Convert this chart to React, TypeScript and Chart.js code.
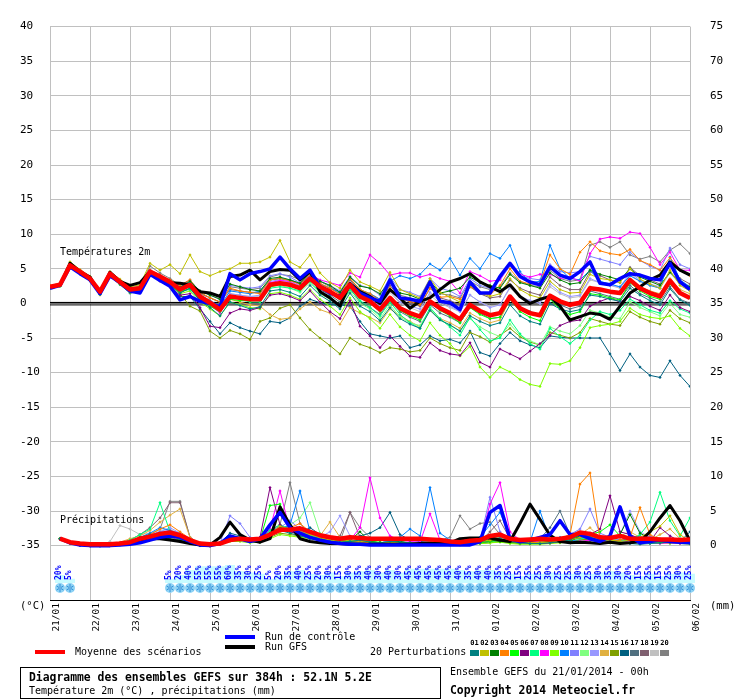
import { useEffect, useRef } from 'react';
import { Chart, registerables } from 'chart.js';

Chart.register(...registerables);

// ---- axes / categories ----
const DAYS = ['21/01', '22/01', '23/01', '24/01', '25/01', '26/01', '27/01', '28/01', '29/01', '30/01', '31/01', '01/02', '02/02', '03/02', '04/02', '05/02', '06/02'];
const HOURS = Array.from({ length: 65 }, (_, i) => i * 6);
const TEMP_TICKS = [-35, -30, -25, -20, -15, -10, -5, 0, 5, 10, 15, 20, 25, 30, 35, 40];
const PRECIP_TICKS = [0, 5, 10, 15, 20, 25, 30, 35, 40, 45, 50, 55, 60, 65, 70, 75];

// ---- temperature 2m (°C), one value per 6h ----
const tempMean = [
  2.4, 2.7, 5.5, 4.6, 3.6, 1.7, 4.3, 3.1, 2.0, 2.2, 4.6, 3.9, 3.1,
  2.0, 2.7, 1.0, 0.1, -0.9, 1.0, 0.8, 0.6, 0.6, 2.7, 2.9, 2.7,
  2.2, 3.6, 2.4, 1.7, 0.8, 2.7, 1.0, 0.3, -0.9, 0.8, -0.7, -1.4,
  -1.9, 0.3, -0.7, -1.4, -2.3, -0.2, -1.1, -1.7, -1.4, 1.0, -0.7, -1.4,
  -1.7, 1.1, 0.3, -0.2, 0.1, 2.2, 2.0, 1.7, 1.5, 3.4, 2.2, 1.5, 1.0, 3.3, 1.5, 0.8,
];
const tempControl = [
  2.2, 2.6, 5.3, 4.3, 3.4, 1.4, 4.0, 3.0, 1.8, 1.5, 4.2, 3.3, 2.5,
  0.5, 1.0, 0.3, 0.0, -0.5, 4.3, 3.4, 4.3, 4.6, 5.0, 6.7, 5.0,
  3.6, 4.8, 2.4, 1.5, 1.0, 2.7, 1.5, 0.8, 0.3, 3.4, 0.8, 0.6,
  0.3, 3.1, 0.3, 0.1, -0.9, 3.1, 1.5, 1.5, 3.9, 5.8, 3.9, 3.1,
  2.7, 5.3, 4.1, 3.6, 4.6, 6.0, 2.9, 2.7, 3.6, 4.3, 4.1, 3.6, 3.4, 5.8, 3.1, 2.0,
];
const tempGfs = [
  2.4, 2.6, 5.8, 4.6, 3.8, 1.5, 4.5, 3.2, 2.6, 3.0, 4.6, 3.8, 3.0,
  2.9, 2.7, 1.7, 1.5, 1.0, 3.9, 4.1, 4.8, 3.4, 4.6, 4.9, 4.8,
  3.4, 4.6, 1.7, 0.8, -0.4, 2.9, 1.7, 1.0, 0.0, 2.0, 0.8, -0.7,
  0.3, 0.8, 2.0, 3.1, 3.6, 4.3, 3.1, 2.4, 1.7, 2.7, 1.0, 0.0,
  0.6, 1.0, -0.4, -2.4, -1.9, -1.4, -1.6, -2.3, -0.4, 1.5, 2.4, 3.4, 4.1, 6.0, 4.8, 4.1,
];
const tempP01 = [
  2.3, 2.6, 5.3, 4.4, 3.4, 1.5, 4.1, 2.9, 1.7, 1.9, 4.3, 3.5, 2.8,
  1.5, 2.2, 0.4, -0.6, -1.8, 0.2, -0.3, -0.8, -0.5, 1.8, 2.0, 1.6,
  1.0, 2.6, 1.2, 0.3, -0.8, 1.5, -0.4, -1.2, -2.5, -0.6, -2.2, -3.0,
  -3.6, -1.0, -2.4, -3.1, -4.0, -1.8, -2.6, -3.2, -2.8, -0.2, -1.8, -2.6,
  -3.0, 0.0, -0.8, -1.2, -0.9, 1.2, 1.0, 0.6, 0.3, 2.2, 1.2, 0.4, -0.2, 2.1, 0.5, -0.3,
];
const tempP02 = [
  2.6, 2.9, 6.0, 4.9, 3.9, 1.9, 4.6, 3.5, 2.4, 2.7, 5.8, 4.8, 5.6,
  4.3, 7.0, 4.6, 4.0, 4.6, 5.0, 5.8, 5.8, 6.0, 6.7, 9.1, 6.0,
  5.2, 7.0, 4.4, 3.0, 2.2, 4.8, 3.1, 2.5, 1.8, 4.5, 2.0, 1.4,
  0.8, 3.6, 1.6, 0.9, 0.2, 2.6, 1.5, 1.0, 1.4, 3.6, 2.0, 1.2,
  0.8, 3.2, 2.0, 1.5, 1.6, 4.2, 3.6, 3.4, 3.0, 5.0, 3.5, 2.8, 2.2, 4.8, 2.6, 1.8,
];
const tempP03 = [
  2.3, 2.6, 5.4, 4.5, 3.6, 1.6, 4.2, 3.0, 1.9, 2.1, 4.5, 3.8, 3.0,
  2.3, 3.2, 1.8, 1.2, 0.6, 2.8, 2.4, 2.0, 1.8, 3.6, 3.8, 3.4,
  2.9, 4.4, 3.2, 2.6, 1.6, 3.8, 2.5, 2.2, 1.4, 3.2, 1.5, 1.2,
  0.6, 3.2, 1.5, 1.8, 2.2, 3.8, 3.0, 2.6, 2.2, 4.2, 3.0, 2.6,
  2.2, 4.4, 3.4, 2.8, 3.0, 4.8, 4.2, 3.8, 3.4, 5.0, 3.8, 3.2, 2.6, 4.5, 3.0, 2.4,
];
const tempP04 = [
  2.5, 2.8, 5.7, 4.7, 3.7, 1.6, 4.4, 3.2, 2.2, 2.4, 4.8, 4.1, 3.4,
  2.6, 3.4, 1.6, 0.8, 0.2, 2.2, 1.8, 1.6, 1.4, 3.4, 3.6, 3.3,
  2.8, 4.2, 2.9, 2.2, 1.3, 3.6, 2.0, 1.4, 0.4, 2.2, 0.8, 0.3,
  -0.2, 2.2, 0.9, 1.0, 0.6, 2.4, 1.6, 1.2, 2.6, 5.0, 3.2, 2.8,
  2.9, 7.0, 5.0, 4.2, 7.4, 8.9, 7.6, 7.2, 7.0, 7.8, 6.2, 5.6, 4.8, 6.6, 4.8, 4.0,
];
const tempP05 = [
  2.2, 2.5, 5.2, 4.3, 3.3, 1.3, 4.0, 2.8, 1.7, 1.8, 4.2, 3.5, 2.7,
  1.6, 2.2, 0.5, -0.4, -1.2, 0.6, 0.4, 0.4, 0.5, 2.4, 2.8, 2.5,
  2.0, 3.4, 2.2, 1.5, 0.6, 2.6, 0.8, 0.0, -1.2, 0.6, -1.0, -1.8,
  -2.4, 0.2, -1.0, -1.8, -2.8, -0.6, -1.6, -2.2, -2.0, 0.6, -1.2, -2.0,
  -2.5, 0.6, -0.8, -1.6, -1.2, 1.4, 1.2, 0.8, 0.5, 3.0, 1.8, 1.0, 0.6, 2.8, 1.4, 0.8,
];
const tempP06 = [
  2.4, 2.7, 5.5, 4.5, 3.5, 1.5, 4.1, 3.0, 1.8, 2.0, 4.3, 3.2, 2.4,
  1.2, 1.4, -0.6, -3.3, -3.5, -1.4, -0.8, -1.0, -0.6, 1.2, 1.4, 1.0,
  0.4, 1.8, 0.2, -1.2, -2.2, 0.4, -3.3, -4.7, -6.4, -4.7, -6.2, -7.6,
  -7.8, -5.7, -6.8, -7.3, -7.5, -5.7, -8.5, -9.2, -6.6, -7.3, -8.0, -6.9,
  -5.8, -4.6, -3.2, -2.6, -2.4, -0.4, 0.3, 0.8, 0.2, 1.0, 0.4, -0.4, -1.0, 1.2, -0.6, -1.2,
];
const tempP07 = [
  2.3, 2.6, 5.3, 4.4, 3.5, 1.5, 4.2, 3.0, 1.8, 2.0, 4.3, 3.6, 2.8,
  1.8, 2.0, 0.6, -0.2, -1.0, 0.8, 0.6, 0.2, 0.2, 2.2, 2.4, 2.2,
  1.8, 3.2, 1.6, 0.9, -0.2, 2.0, 0.4, -0.6, -1.8, 0.2, -1.6, -2.8,
  -3.6, -0.6, -2.2, -3.4, -4.6, -2.0, -3.8, -5.4, -5.0, -2.4, -4.4, -5.8,
  -6.6, -3.6, -4.8, -5.8, -4.6, -2.4, -1.2, -1.6, -1.0, 0.6, -0.2, -1.0, -1.4, 0.4, -0.8, -1.4,
];
const tempP08 = [
  2.4, 2.6, 5.4, 4.5, 3.6, 1.7, 4.3, 3.1, 2.0, 2.2, 4.6, 3.8, 3.0,
  1.8, 2.4, 0.8, -0.2, -1.4, 0.9, 0.6, 0.4, 0.8, 3.0, 3.3, 3.2,
  2.8, 4.2, 3.4, 3.0, 2.6, 4.4, 3.8, 7.0, 5.8, 4.1, 4.4, 4.4,
  3.8, 4.2, 3.6, 3.2, 1.5, 4.6, 4.0, 3.2, 3.4, 5.8, 4.2, 3.8,
  4.2, 4.2, 3.6, 3.8, 3.2, 7.2, 9.3, 9.6, 9.4, 10.3, 10.1, 8.1, 5.6, 7.4, 4.8, 4.8,
];
const tempP09 = [
  2.2, 2.5, 5.2, 4.3, 3.3, 1.4, 4.0, 2.8, 1.6, 1.8, 4.2, 3.4, 2.6,
  1.4, 1.8, 0.2, -0.8, -1.8, 0.2, -0.2, -0.6, -0.8, 1.4, 1.6, 1.2,
  0.6, 2.0, 0.6, -0.4, -1.6, 0.8, -1.2, -2.2, -3.6, -1.6, -3.4, -4.6,
  -5.4, -2.8, -4.6, -5.8, -7.6, -6.2, -9.2, -10.7, -9.2, -9.9, -11.0, -11.7,
  -12.0, -8.7, -8.8, -8.3, -6.4, -3.5, -3.2, -3.0, -2.6, -0.7, -1.6, -2.0, -2.2, -1.8, -3.6, -4.7,
];
const tempP10 = [
  2.5, 2.8, 5.6, 4.7, 3.8, 1.8, 4.5, 3.2, 2.1, 2.3, 4.8, 4.0, 3.2,
  2.4, 3.0, 1.2, 0.4, -0.4, 1.8, 1.6, 1.4, 1.8, 3.4, 3.6, 3.4,
  2.9, 4.0, 2.8, 2.2, 1.6, 2.9, 1.8, 1.4, 0.6, 3.2, 4.0, 3.6,
  4.2, 5.7, 4.8, 6.5, 4.1, 6.5, 5.0, 7.2, 6.5, 8.4, 4.6, 3.0,
  3.2, 8.4, 5.0, 3.6, 3.4, 4.8, 3.2, 2.8, 2.4, 4.0, 3.2, 2.6, 2.2, 6.7, 3.4, 2.4,
];
const tempP11 = [
  2.4, 2.7, 5.5, 4.6, 3.7, 1.8, 4.4, 3.2, 2.1, 2.3, 4.7, 4.0, 3.3,
  2.6, 3.3, 1.8, 1.2, 0.6, 2.6, 2.4, 2.2, 2.4, 4.0, 4.3, 3.8,
  3.0, 4.6, 3.2, 2.6, 1.8, 3.9, 2.6, 2.2, 1.2, 3.8, 2.0, 1.6,
  1.0, 3.6, 2.2, 1.8, 1.0, 3.6, 2.6, 2.2, 3.4, 5.4, 4.0, 3.6,
  3.4, 5.6, 4.6, 4.4, 4.6, 6.8, 6.4, 6.0, 5.6, 7.4, 6.2, 5.4, 4.8, 8.0, 5.6, 5.0,
];
const tempP12 = [
  2.3, 2.6, 5.4, 4.5, 3.5, 1.6, 4.2, 3.0, 1.9, 2.0, 4.4, 3.7, 2.9,
  1.9, 2.5, 0.9, 0.0, -0.9, 1.0, 0.8, 0.5, 0.4, 2.4, 2.6, 2.2,
  1.6, 3.0, 1.4, 0.6, -0.4, 1.8, 0.0, -0.8, -2.2, -0.2, -2.0, -2.8,
  -3.2, -0.8, -2.4, -3.2, -4.0, -2.2, -3.4, -4.2, -4.8, -3.0, -4.6, -5.4,
  -6.0, -3.4, -4.0, -4.4, -3.2, -1.0, -1.4, -2.0, -2.2, 0.2, -0.6, -1.2, -1.8, 0.0, -1.6, -2.0,
];
const tempP13 = [
  2.5, 2.8, 5.6, 4.7, 3.7, 1.8, 4.4, 3.2, 2.1, 2.3, 4.7, 4.0, 3.2,
  2.2, 2.9, 1.2, 0.4, -0.6, 1.4, 1.2, 1.0, 1.2, 3.2, 3.4, 3.1,
  2.6, 3.8, 2.6, 1.9, 1.0, 3.0, 1.2, 0.6, -0.4, 1.8, 0.2, -0.4,
  -0.8, 1.6, 0.2, -0.4, -1.2, 1.2, 0.2, -0.6, -0.2, 2.4, 1.0, 0.4,
  0.0, 2.8, 1.6, 1.0, 1.2, 3.6, 3.0, 2.6, 2.4, 4.4, 3.4, 2.8, 2.4, 4.6, 3.0, 2.2,
];
const tempP14 = [
  2.4, 2.7, 5.5, 4.6, 3.5, 1.2, 4.0, 2.9, 1.8, 2.0, 4.4, 3.6, 2.8,
  1.6, 2.2, 0.4, -0.4, -1.2, 0.6, 0.2, -0.2, -0.4, -1.6, -2.3, -2.1,
  -0.8, 0.2, -0.9, -1.4, -3.0, -0.6, -1.4, -2.0, -2.8, -0.8, -1.8, -2.6,
  -3.4, -1.0, -2.2, -2.8, -3.6, -1.4, -2.2, -2.8, -2.4, 0.6, -0.8, -1.4,
  -1.8, 1.2, 0.2, -0.4, 0.0, 2.4, 2.0, 1.8, 1.6, 3.4, 2.4, 1.8, 1.4, 3.6, 2.0, 1.4,
];
const tempP15 = [
  2.3, 2.6, 5.4, 4.4, 3.4, 1.4, 4.1, 2.9, 1.8, 2.0, 4.4, 3.6, 2.7,
  1.4, -0.4, -1.1, -4.0, -5.0, -3.9, -4.4, -5.2, -2.6, -2.1, -0.7, -0.2,
  -2.1, -3.8, -5.0, -6.1, -7.3, -5.0, -5.9, -6.4, -7.1, -6.4, -6.6, -7.0,
  -6.8, -5.0, -5.8, -6.4, -6.8, -4.2, -4.8, -5.6, -4.6, -3.6, -4.8, -5.6,
  -6.0, -4.2, -4.6, -5.0, -4.2, -2.2, -2.6, -3.0, -3.2, -1.2, -2.0, -2.6, -3.0, -1.0, -2.2, -2.8,
];
const tempP16 = [
  2.2, 2.5, 5.2, 4.3, 3.3, 1.3, 3.9, 2.7, 1.5, 1.7, 4.1, 3.3, 2.4,
  1.0, 1.0, -0.8, -2.6, -4.4, -2.8, -3.5, -4.0, -4.4, -2.6, -2.8, -2.1,
  -0.4, 0.6, 0.1, -0.2, -0.2, -0.4, -2.6, -4.4, -4.7, -5.0, -4.7, -6.4,
  -6.0, -4.7, -5.4, -5.2, -5.7, -4.0, -7.1, -7.6, -5.8, -4.2, -5.4, -6.0,
  -6.4, -4.7, -4.9, -5.0, -5.0, -5.0, -5.0, -7.3, -9.7, -7.3, -9.2, -10.4, -10.7, -8.3, -10.4, -12.0,
];
const tempP17 = [
  2.4, 2.7, 5.6, 4.6, 3.6, 1.6, 4.3, 3.1, 2.0, 2.2, 4.6, 3.8, 3.0,
  1.6, 2.6, 0.6, -0.2, -1.0, 1.0, 0.8, 0.6, 0.8, 2.6, 2.8, 2.6,
  2.0, 3.4, 2.0, 1.2, 0.2, 2.2, 0.2, -0.6, -1.6, 0.4, -1.2, -2.0,
  -2.6, -0.2, -1.4, -2.0, -2.8, -0.6, -1.4, -2.2, -2.0, 0.8, -0.6, -1.2,
  -1.6, 1.0, -0.2, -0.8, -0.4, 1.8, 1.4, 1.0, 0.6, 2.6, 1.4, 0.8, 0.2, 2.4, 0.6, 0.0,
];
const tempP18 = [
  2.5, 2.8, 5.6, 4.7, 3.7, 1.8, 4.4, 3.3, 2.2, 2.4, 4.8, 4.1, 3.3,
  2.4, 3.0, 1.4, 0.8, 0.2, 2.0, 1.8, 1.6, 1.6, 3.4, 3.6, 3.3,
  2.8, 4.0, 2.8, 2.2, 1.4, 3.4, 1.8, 1.2, 0.2, 2.6, 0.8, 0.2,
  -0.4, 2.2, 0.8, 0.4, -0.2, 2.4, 1.4, 0.8, 1.0, 3.4, 2.2, 1.6,
  1.2, 3.8, 2.6, 2.0, 2.0, 4.6, 4.0, 3.4, 3.0, 5.2, 4.0, 3.4, 2.8, 5.6, 3.6, 2.8,
];
const tempP19 = [
  2.4, 2.7, 5.5, 4.6, 3.6, 1.7, 4.3, 3.1, 2.3, 2.6, 4.7, 3.9, 3.1,
  2.0, 2.8, 1.0, 0.2, -0.6, 1.4, 1.2, 1.0, 1.0, 3.0, 3.2, 3.0,
  2.4, 3.6, 2.4, 1.6, 0.8, 2.8, 1.0, 0.4, -0.6, 1.6, 0.0, -0.6,
  -1.2, 1.2, 0.0, -0.6, -1.2, 1.2, 0.2, -0.4, -0.2, 2.2, 1.0, 0.4,
  0.0, 2.4, 1.4, 0.8, 1.0, 3.4, 3.0, 2.6, 2.2, 4.2, 3.2, 2.6, 2.2, 4.4, 2.8, 2.2,
];
const tempP20 = [
  2.5, 2.8, 5.9, 4.8, 3.8, 1.7, 4.4, 3.2, 2.2, 2.6, 5.4, 4.4, 3.6,
  2.6, 3.4, 1.6, 0.8, 0.2, 2.4, 2.2, 2.0, 2.2, 3.8, 4.2, 4.0,
  3.4, 4.6, 3.2, 2.4, 1.6, 3.6, 2.0, 1.4, 0.6, 3.0, 1.2, 0.8,
  0.2, 2.8, 1.4, 1.2, 0.8, 3.2, 2.4, 2.0, 2.4, 4.4, 3.2, 2.6,
  2.4, 4.8, 3.6, 3.2, 3.4, 8.4, 8.9, 8.1, 8.9, 7.0, 6.4, 6.8, 6.0, 7.7, 8.6, 7.2,
];

// ---- precipitation (mm per 6h), nothing at hour 0 ----
const precipMean = [
  null, 1.0, 0.5, 0.3, 0.2, 0.2, 0.2, 0.3, 0.5, 1.0, 1.3, 1.7, 1.9,
  1.5, 0.8, 0.3, 0.2, 0.3, 0.8, 1.0, 0.9, 1.0, 1.6, 2.3, 2.3,
  2.5, 2.0, 1.5, 1.2, 1.0, 1.2, 1.1, 1.0, 1.0, 1.0, 1.0, 1.0,
  1.0, 0.9, 0.8, 0.6, 0.5, 0.7, 0.8, 1.4, 1.6, 1.0, 0.8, 0.9,
  1.0, 0.9, 1.0, 1.2, 1.9, 1.7, 1.2, 1.1, 1.4, 1.0, 1.0, 1.0, 0.9, 0.9, 0.8, 0.9,
];
const precipControl = [
  null, 1.0, 0.4, 0.1, 0.0, 0.0, 0.0, 0.1, 0.2, 0.4, 0.8, 1.2, 1.4,
  1.2, 0.6, 0.1, 0.0, 0.3, 1.4, 1.0, 0.6, 1.0, 3.0, 4.8, 2.6,
  1.8, 1.2, 0.8, 0.5, 0.3, 0.2, 0.2, 0.1, 0.1, 0.1, 0.1, 0.1,
  0.1, 0.1, 0.1, 0.1, 0.1, 0.1, 0.6, 4.8, 5.8, 1.0, 0.6, 0.8,
  1.2, 1.6, 3.6, 1.6, 1.6, 1.0, 0.6, 1.4, 5.6, 1.4, 0.4, 0.6, 0.8, 0.6, 0.5, 0.4,
];
const precipGfs = [
  null, 1.0, 0.5, 0.2, 0.1, 0.1, 0.1, 0.2, 0.3, 0.6, 1.0, 1.0, 0.8,
  0.6, 0.3, 0.1, 0.1, 1.2, 3.4, 1.6, 0.8, 0.5, 1.0, 5.6, 3.0,
  1.0, 0.6, 0.4, 0.3, 0.3, 0.2, 0.2, 0.2, 0.2, 0.2, 0.2, 0.2,
  0.3, 0.3, 0.3, 0.4, 1.0, 1.1, 1.1, 1.1, 0.8, 0.6, 3.2, 6.0,
  3.8, 1.5, 0.6, 0.4, 0.5, 0.4, 0.3, 0.5, 0.3, 0.4, 0.6, 2.0, 4.0, 5.8, 3.6, 0.7,
];
const precipP01 = [
  null, 1.0, 0.4, 0.1, 0.0, 0.0, 0.1, 0.3, 0.6, 1.2, 1.6, 1.2, 1.0,
  0.8, 0.3, 0.0, 0.0, 0.2, 1.2, 1.0, 0.6, 0.5, 1.4, 2.2, 1.8,
  1.4, 1.0, 0.8, 0.6, 0.5, 0.6, 0.8, 0.5, 0.4, 0.6, 0.5, 0.4,
  0.3, 0.3, 0.2, 0.2, 0.2, 0.3, 0.4, 1.2, 1.0, 0.6, 0.4, 0.3,
  0.3, 0.4, 0.6, 0.8, 1.6, 1.2, 0.8, 0.6, 0.4, 0.3, 0.2, 0.3, 0.4, 0.5, 0.4, 0.3,
];
const precipP02 = [
  null, 1.0, 0.5, 0.1, 0.0, 0.0, 0.1, 0.2, 0.5, 1.0, 1.4, 1.6, 1.8,
  1.2, 0.6, 0.1, 0.0, 0.3, 1.0, 0.8, 0.6, 0.8, 1.6, 2.8, 2.4,
  2.0, 1.6, 1.2, 0.8, 0.6, 0.8, 0.6, 0.5, 0.4, 0.5, 0.4, 0.4,
  0.3, 0.4, 0.3, 0.2, 0.3, 0.5, 0.6, 0.8, 1.0, 0.6, 0.4, 0.3,
  0.4, 0.5, 0.6, 0.8, 1.2, 1.4, 1.0, 0.8, 0.6, 0.8, 1.2, 2.0, 2.8, 4.3, 1.6, 0.6,
];
const precipP03 = [
  null, 1.0, 0.4, 0.1, 0.0, 0.0, 0.1, 0.2, 0.4, 0.8, 1.2, 1.8, 2.0,
  1.6, 0.8, 0.2, 0.0, 0.4, 1.4, 1.2, 0.8, 0.6, 1.8, 2.6, 2.2,
  2.4, 2.0, 1.4, 0.9, 0.6, 0.8, 2.0, 0.6, 0.4, 0.5, 0.6, 0.4,
  0.3, 0.3, 0.4, 0.3, 0.3, 0.4, 0.6, 0.8, 0.6, 0.5, 0.4, 0.6,
  0.8, 0.6, 0.5, 0.6, 1.4, 1.8, 1.2, 1.0, 1.6, 4.5, 1.8, 1.0, 0.6, 0.5, 0.6, 0.8,
];
const precipP04 = [
  null, 1.0, 0.5, 0.2, 0.1, 0.0, 0.1, 0.3, 0.6, 1.0, 1.6, 2.4, 3.0,
  2.0, 1.0, 0.2, 0.0, 0.2, 0.8, 1.0, 0.8, 0.6, 1.4, 2.0, 2.6,
  3.2, 2.0, 1.2, 0.8, 0.6, 0.8, 0.6, 0.4, 0.3, 0.4, 0.3, 0.3,
  0.2, 0.3, 0.2, 0.2, 0.2, 0.4, 0.6, 0.8, 1.6, 0.8, 0.5, 0.4,
  0.5, 0.6, 1.0, 1.6, 8.9, 10.5, 1.0, 0.6, 0.8, 1.2, 5.5, 1.6, 0.8, 0.6, 0.5, 0.6,
];
const precipP05 = [
  null, 1.0, 0.4, 0.1, 0.0, 0.0, 0.1, 0.2, 0.4, 0.8, 1.2, 1.6, 1.4,
  1.0, 0.5, 0.1, 0.0, 0.4, 1.2, 0.9, 0.6, 0.8, 5.8, 6.0, 2.6,
  1.8, 1.4, 1.0, 0.7, 0.5, 0.6, 0.8, 0.6, 0.5, 0.4, 0.4, 0.3,
  0.3, 0.3, 0.2, 0.2, 0.2, 0.3, 0.4, 0.6, 0.8, 0.5, 0.4, 0.4,
  0.5, 0.6, 0.8, 1.0, 1.4, 1.6, 2.0, 3.0, 1.4, 0.8, 0.6, 0.4, 0.4, 0.5, 0.4, 0.4,
];
const precipP06 = [
  null, 1.0, 0.4, 0.1, 0.0, 0.0, 0.0, 0.2, 0.3, 0.6, 1.0, 1.4, 1.6,
  1.2, 0.6, 0.1, 0.0, 0.2, 0.8, 0.8, 0.6, 1.2, 8.4, 3.0, 2.0,
  1.6, 1.2, 1.0, 0.8, 0.6, 0.5, 0.6, 0.4, 0.3, 0.4, 0.3, 0.3,
  0.2, 0.2, 0.2, 0.2, 0.2, 0.3, 0.4, 0.6, 1.0, 0.6, 0.4, 0.4,
  0.3, 0.4, 0.5, 0.8, 1.2, 1.6, 2.4, 7.2, 2.0, 1.6, 1.0, 0.6, 2.6, 1.4, 0.6, 0.4,
];
const precipP07 = [
  null, 1.0, 0.4, 0.1, 0.0, 0.0, 0.1, 0.3, 0.8, 1.6, 2.4, 6.2, 2.0,
  1.4, 0.6, 0.1, 0.0, 0.3, 1.0, 0.8, 0.6, 0.8, 2.2, 3.0, 2.4,
  2.0, 1.6, 1.2, 0.8, 0.6, 0.7, 0.6, 0.5, 0.4, 0.5, 0.4, 0.3,
  0.3, 0.3, 0.2, 0.2, 0.2, 0.3, 0.5, 0.6, 0.8, 0.6, 0.4, 0.3,
  0.4, 0.5, 0.6, 0.8, 1.0, 1.2, 1.0, 0.8, 0.6, 0.8, 1.6, 3.4, 7.7, 3.6, 1.4, 4.0,
];
const precipP08 = [
  null, 1.0, 0.4, 0.1, 0.0, 0.0, 0.1, 0.2, 0.4, 0.8, 1.2, 1.4, 1.2,
  1.0, 0.5, 0.1, 0.0, 0.3, 1.0, 0.8, 0.6, 0.8, 2.4, 7.9, 2.2,
  1.6, 1.2, 1.0, 0.8, 0.6, 0.8, 2.6, 9.8, 4.0, 1.4, 0.8, 0.6,
  0.5, 4.6, 0.8, 0.6, 0.4, 0.4, 0.6, 6.0, 9.1, 2.0, 0.8, 0.6,
  0.6, 0.8, 0.6, 0.5, 0.6, 0.8, 0.6, 0.5, 0.6, 0.5, 0.4, 0.4, 0.3, 0.4, 0.3, 0.3,
];
const precipP09 = [
  null, 1.0, 0.4, 0.1, 0.0, 0.0, 0.0, 0.1, 0.3, 0.6, 1.0, 1.2, 1.4,
  1.0, 0.4, 0.1, 0.0, 0.2, 0.6, 0.6, 0.4, 0.5, 1.0, 1.6, 1.4,
  1.2, 1.0, 0.8, 0.6, 0.4, 0.5, 0.4, 0.3, 0.2, 0.3, 0.2, 0.2,
  0.2, 0.2, 0.1, 0.1, 0.1, 0.2, 0.3, 0.4, 0.5, 0.3, 0.2, 0.2,
  0.2, 0.3, 0.4, 0.5, 0.6, 0.8, 0.6, 0.4, 0.3, 0.4, 0.5, 0.6, 0.4, 0.3, 0.3, 0.2,
];
const precipP10 = [
  null, 1.0, 0.5, 0.1, 0.0, 0.0, 0.1, 0.3, 0.6, 1.2, 1.8, 2.6, 2.2,
  1.4, 0.6, 0.1, 0.0, 0.4, 1.2, 1.0, 0.8, 0.6, 1.6, 2.4, 3.0,
  7.9, 2.0, 1.2, 0.8, 0.6, 0.8, 0.6, 0.5, 0.4, 0.6, 1.2, 2.4,
  1.4, 8.4, 1.8, 0.8, 0.6, 0.5, 1.2, 3.0, 4.8, 1.2, 0.6, 0.5,
  5.0, 0.8, 1.2, 0.8, 0.6, 0.8, 0.6, 0.6, 0.8, 1.0, 1.4, 0.8, 0.6, 0.5, 0.6, 0.5,
];
const precipP11 = [
  null, 1.0, 0.5, 0.2, 0.1, 0.0, 0.1, 0.3, 0.6, 1.0, 1.6, 2.0, 2.2,
  1.8, 0.8, 0.2, 0.0, 0.4, 4.3, 3.2, 1.2, 0.8, 1.8, 2.6, 3.6,
  2.4, 1.6, 1.2, 0.9, 0.6, 0.8, 0.6, 0.5, 0.4, 0.6, 0.5, 0.4,
  0.4, 0.4, 0.3, 0.3, 0.3, 0.4, 0.8, 7.0, 2.0, 0.8, 0.6, 0.5,
  0.6, 0.8, 1.0, 1.6, 2.4, 5.3, 1.8, 1.2, 0.8, 0.8, 1.0, 1.4, 1.0, 0.8, 0.8, 0.6,
];
const precipP12 = [
  null, 1.0, 0.4, 0.1, 0.0, 0.0, 0.1, 0.2, 0.5, 0.9, 1.4, 1.8, 1.6,
  1.2, 0.6, 0.1, 0.0, 0.3, 1.0, 0.8, 0.6, 0.8, 2.0, 2.4, 3.0,
  4.0, 6.2, 1.8, 1.0, 0.6, 0.8, 0.6, 0.5, 0.4, 0.5, 0.4, 0.3,
  0.3, 0.3, 0.2, 0.2, 0.2, 0.3, 0.4, 0.6, 0.8, 0.5, 0.4, 0.3,
  0.4, 0.5, 0.6, 0.8, 1.2, 1.4, 1.2, 1.0, 0.8, 0.6, 0.5, 0.6, 0.8, 0.6, 0.5, 0.4,
];
const precipP13 = [
  null, 1.0, 0.5, 0.1, 0.0, 0.0, 0.1, 0.2, 0.5, 1.0, 1.4, 2.0, 2.6,
  1.8, 0.8, 0.1, 0.0, 0.3, 1.2, 1.0, 0.8, 0.6, 1.4, 2.0, 2.4,
  2.2, 1.6, 1.2, 2.0, 4.3, 1.4, 0.8, 0.6, 0.4, 0.6, 0.5, 0.4,
  0.3, 0.3, 0.3, 0.2, 0.3, 0.4, 0.6, 0.8, 1.0, 0.6, 0.4, 0.4,
  0.5, 0.6, 0.8, 1.0, 1.6, 1.8, 1.4, 1.0, 1.6, 5.0, 2.0, 1.2, 0.8, 0.6, 0.5, 0.5,
];
const precipP14 = [
  null, 1.0, 0.5, 0.2, 0.1, 0.0, 0.2, 0.5, 1.0, 1.4, 2.2, 3.4, 4.4,
  5.3, 1.2, 0.2, 0.0, 0.3, 1.0, 0.8, 0.6, 0.8, 1.6, 2.4, 2.6,
  2.0, 1.6, 1.4, 3.4, 1.2, 0.8, 0.6, 0.5, 0.4, 0.5, 0.4, 0.3,
  0.3, 0.3, 0.2, 0.2, 0.2, 0.3, 0.5, 0.6, 1.4, 0.6, 0.4, 0.3,
  0.4, 0.5, 0.6, 0.8, 1.6, 2.6, 1.2, 0.8, 1.4, 2.0, 1.2, 0.8, 1.6, 2.4, 1.0, 0.6,
];
const precipP15 = [
  null, 1.0, 0.4, 0.1, 0.0, 0.0, 0.0, 0.1, 0.3, 0.6, 0.9, 1.2, 1.2,
  0.8, 0.4, 0.1, 0.0, 0.2, 0.8, 0.8, 0.6, 0.5, 1.2, 1.8, 1.6,
  1.4, 1.2, 0.8, 0.6, 0.4, 0.5, 0.4, 0.3, 0.3, 0.4, 0.3, 0.2,
  0.2, 0.2, 0.2, 0.1, 0.1, 0.2, 0.3, 0.4, 0.6, 0.4, 0.3, 0.3,
  0.3, 0.4, 0.5, 0.6, 0.8, 1.0, 0.8, 0.6, 0.5, 0.6, 0.8, 0.6, 0.5, 0.4, 0.4, 0.3,
];
const precipP16 = [
  null, 1.0, 0.4, 0.1, 0.0, 0.0, 0.1, 0.2, 0.4, 0.8, 1.2, 1.4, 1.4,
  1.0, 0.5, 0.1, 0.0, 0.4, 1.8, 1.4, 0.8, 0.6, 1.4, 2.2, 2.0,
  1.8, 2.6, 1.6, 1.0, 0.8, 1.0, 1.4, 1.8, 2.6, 4.8, 1.6, 0.8,
  0.6, 0.5, 0.4, 0.4, 0.4, 0.5, 0.6, 0.8, 0.8, 0.5, 0.4, 0.4,
  0.5, 0.8, 1.0, 1.4, 1.2, 1.0, 0.8, 0.6, 0.8, 0.6, 0.5, 0.6, 0.8, 1.0, 0.6, 2.0,
];
const precipP17 = [
  null, 1.0, 0.4, 0.1, 0.0, 0.0, 0.1, 0.3, 0.5, 0.9, 1.4, 1.8, 1.6,
  1.2, 0.6, 0.1, 0.0, 0.4, 1.2, 1.0, 0.8, 0.6, 1.6, 2.6, 2.2,
  2.0, 1.6, 1.2, 0.8, 0.6, 0.8, 0.6, 0.5, 0.4, 0.6, 0.5, 0.4,
  0.3, 0.3, 0.3, 0.2, 0.2, 0.3, 0.4, 0.8, 1.2, 0.8, 0.6, 0.5,
  1.0, 2.6, 5.0, 1.6, 1.0, 0.8, 0.6, 0.5, 0.4, 0.6, 0.8, 0.6, 0.5, 0.6, 0.5, 0.4,
];
const precipP18 = [
  null, 1.0, 0.5, 0.2, 0.1, 0.0, 0.1, 0.3, 0.8, 1.6, 2.6, 4.0, 6.2,
  6.2, 1.2, 0.2, 0.0, 0.3, 1.0, 0.8, 0.6, 0.8, 2.0, 2.8, 2.4,
  2.0, 1.6, 1.2, 0.8, 1.4, 4.8, 1.2, 0.6, 0.4, 0.6, 0.5, 0.4,
  0.3, 0.4, 0.3, 0.2, 0.3, 0.4, 0.6, 2.0, 3.6, 1.0, 0.6, 0.5,
  0.5, 0.6, 0.8, 1.0, 1.2, 1.4, 1.0, 0.8, 0.6, 0.8, 1.0, 0.8, 0.6, 0.8, 0.6, 0.5,
];
const precipP19 = [
  null, 1.0, 0.5, 0.2, 0.1, 0.0, 0.6, 2.9, 2.4, 1.6, 1.8, 2.2, 2.4,
  1.6, 0.6, 0.1, 0.0, 0.3, 1.0, 0.8, 0.6, 0.6, 1.4, 2.0, 2.2,
  1.8, 1.4, 1.0, 0.7, 0.5, 0.6, 0.5, 0.4, 0.3, 0.4, 0.3, 0.3,
  0.2, 0.2, 0.2, 0.2, 0.2, 0.3, 0.4, 0.5, 0.6, 0.4, 0.3, 0.3,
  0.4, 0.5, 0.6, 0.7, 0.9, 1.0, 0.8, 0.6, 0.5, 0.6, 0.7, 0.6, 0.5, 0.5, 0.4, 0.4,
];
const precipP20 = [
  null, 1.0, 0.5, 0.2, 0.1, 0.0, 0.1, 0.3, 0.6, 1.0, 1.6, 2.4, 6.4,
  6.4, 1.2, 0.2, 0.0, 0.3, 1.2, 1.0, 0.8, 0.8, 2.2, 3.0, 9.1,
  3.2, 1.6, 1.2, 0.8, 0.6, 4.8, 2.6, 1.2, 0.8, 0.6, 0.5, 0.4,
  0.4, 0.6, 0.8, 1.2, 4.3, 2.4, 3.2, 3.4, 1.6, 0.8, 0.6, 0.5,
  0.5, 0.6, 0.8, 1.0, 1.2, 1.4, 1.0, 0.8, 0.6, 0.8, 1.0, 0.8, 0.6, 0.6, 0.5, 0.5,
];

// probability of snow (%) for each 6h interval
const snowPct = [
  20, 5, null, null, null, null, null, null, null, null, null,
  5, 20, 40, 55, 55, 55, 60, 35, 30, 25, 5, 20, 35, 40, 25, 20, 30, 15, 30, 35, 40, 30, 40, 30,
  45, 45, 45, 45, 45, 40, 35, 40, 40, 35, 25, 15, 25, 25, 30, 25, 25, 30, 25, 30, 35, 30, 20,
  15, 25, 15, 25, 30, 25,
];

const PERT_COLORS = ['#008080', '#c0c000', '#008000', '#ff8000', '#00ff00', '#800080', '#00ff80', '#ff00ff', '#80ff00', '#0080ff', '#8080ff', '#80ff80', '#9898ff', '#e0b040', '#80a000', '#006080', '#507080', '#806070', '#c0c0c0', '#808080'];
const PERT_TEMPS = [tempP01, tempP02, tempP03, tempP04, tempP05, tempP06, tempP07, tempP08, tempP09, tempP10, tempP11, tempP12, tempP13, tempP14, tempP15, tempP16, tempP17, tempP18, tempP19, tempP20];
const PERT_PRECIPS = [precipP01, precipP02, precipP03, precipP04, precipP05, precipP06, precipP07, precipP08, precipP09, precipP10, precipP11, precipP12, precipP13, precipP14, precipP15, precipP16, precipP17, precipP18, precipP19, precipP20];

const MONO = '"DejaVu Sans Mono", monospace';
const GRID = '#c0c0c0';

function txt(ctx: CanvasRenderingContext2D, s: string, x: number, y: number, font: string, color = '#000') {
  ctx.font = font;
  ctx.fillStyle = color;
  ctx.textAlign = 'left';
  ctx.textBaseline = 'middle';
  ctx.fillText(s, x, y);
}

function flake(ctx: CanvasRenderingContext2D, cx: number, cy: number) {
  ctx.fillStyle = '#8fd3f5';
  ctx.beginPath();
  ctx.arc(cx, cy, 5, 0, Math.PI * 2);
  ctx.fill();
  ctx.strokeStyle = '#3290d8';
  ctx.lineWidth = 1;
  for (let a = 0; a < 3; a++) {
    const ang = (a * Math.PI) / 3 + Math.PI / 2;
    ctx.beginPath();
    ctx.moveTo(cx - 4 * Math.cos(ang), cy - 4 * Math.sin(ang));
    ctx.lineTo(cx + 4 * Math.cos(ang), cy + 4 * Math.sin(ang));
    ctx.stroke();
  }
  ctx.fillStyle = '#ffffff';
  ctx.fillRect(cx - 0.5, cy - 0.5, 1, 1);
}

const meteoPlugin = {
  id: 'meteo',
  beforeDatasetsDraw(chart: any) {
    const { ctx, chartArea: a, scales } = chart;
    const y0 = scales.y.getPixelForValue(0);
    ctx.save();
    ctx.fillStyle = '#000';
    ctx.fillRect(a.left, y0 - 1.5, a.right - a.left, 1.5);
    ctx.fillRect(a.left, y0 + 1, a.right - a.left, 1);
    txt(ctx, 'Températures 2m', 60, scales.y.getPixelForValue(7.3), `10px ${MONO}`);
    txt(ctx, 'Précipitations', 60, scales.y.getPixelForValue(-31.3), `10px ${MONO}`);
    ctx.restore();
  },
  afterDatasetsDraw(chart: any) {
    const { ctx, scales } = chart;
    ctx.save();
    const base = 583;
    snowPct.forEach((p, k) => {
      if (p == null) return;
      const x = scales.x.getPixelForValue((k + 1) * 6);
      const h = 3 + p * 0.25;
      ctx.fillStyle = '#c8fbff';
      ctx.fillRect(x - 5, base - h, 10, h);
    });
    snowPct.forEach((p, k) => {
      if (p == null) return;
      const x = scales.x.getPixelForValue((k + 1) * 6);
      flake(ctx, x, base + 5);
      ctx.save();
      ctx.translate(x - 1, base - 3);
      ctx.rotate(-Math.PI / 2);
      ctx.font = `bold 8px ${MONO}`;
      ctx.fillStyle = '#0000ff';
      ctx.textAlign = 'left';
      ctx.textBaseline = 'middle';
      ctx.fillText(`${p}%`, 0, 0);
      ctx.restore();
    });
    ctx.restore();
  },
  afterDraw(chart: any) {
    const { ctx } = chart;
    ctx.save();
    txt(ctx, '(°C)', 20, 606, `10.5px ${MONO}`);
    txt(ctx, '(mm)', 710, 606, `10.5px ${MONO}`);

    ctx.fillStyle = '#ff0000';
    ctx.fillRect(35, 650, 30, 4);
    txt(ctx, 'Moyenne des scénarios', 75, 652, `10px ${MONO}`);
    ctx.fillStyle = '#0000ff';
    ctx.fillRect(225, 635, 30, 4);
    txt(ctx, 'Run de contrôle', 265, 637, `10px ${MONO}`);
    ctx.fillStyle = '#000000';
    ctx.fillRect(225, 645, 30, 4);
    txt(ctx, 'Run GFS', 265, 647, `10px ${MONO}`);

    txt(ctx, '20 Perturbations', 370, 652, `10px ${MONO}`);
    PERT_COLORS.forEach((c, i) => {
      const x = 470 + i * 10;
      ctx.fillStyle = c;
      ctx.fillRect(x, 650, 9, 6);
      ctx.font = `bold 7px ${MONO}`;
      ctx.fillStyle = '#000';
      ctx.textAlign = 'center';
      ctx.textBaseline = 'middle';
      ctx.fillText(String(i + 1).padStart(2, '0'), x + 4.5, 643);
    });

    ctx.strokeStyle = '#000';
    ctx.lineWidth = 1;
    ctx.strokeRect(20.5, 667.5, 420, 31);
    txt(ctx, 'Diagramme des ensembles GEFS sur 384h : 52.1N 5.2E', 29, 678, `bold 11.4px ${MONO}`);
    txt(ctx, 'Température 2m (°C) , précipitations (mm)', 29, 691, `10px ${MONO}`);
    txt(ctx, 'Ensemble GEFS du 21/01/2014 - 00h', 450, 672, `10px ${MONO}`);
    txt(ctx, 'Copyright 2014 Meteociel.fr', 450, 691, `bold 11.4px ${MONO}`);
    ctx.restore();
  },
};

export default function App() {
  const canvasRef = useRef<HTMLCanvasElement>(null);

  useEffect(() => {
    document.body.style.margin = '0';
    const canvas = canvasRef.current;
    if (!canvas) return;

    const line = (data: (number | null)[], color: string, width: number, axis: string, points: boolean) => ({
      data,
      yAxisID: axis,
      borderColor: color,
      backgroundColor: color,
      borderWidth: width,
      borderJoinStyle: 'round' as const,
      pointRadius: points ? 1.6 : 0,
      pointStyle: 'rectRot' as const,
      pointBorderWidth: 0,
      pointBackgroundColor: color,
      tension: 0,
      fill: false,
    });

    const datasets: any[] = [
      line(tempMean, '#ff0000', 4.5, 'y', false),
      line(precipMean, '#ff0000', 4.5, 'y2', false),
      line(tempControl, '#0000ff', 3.5, 'y', false),
      line(precipControl, '#0000ff', 3.5, 'y2', false),
      line(tempGfs, '#000000', 3, 'y', false),
      line(precipGfs, '#000000', 3, 'y2', false),
    ];
    PERT_COLORS.forEach((c, i) => {
      datasets.push(line(PERT_TEMPS[i], c, 1, 'y', true));
      datasets.push(line(PERT_PRECIPS[i], c, 1, 'y2', true));
    });

    const chart = new Chart(canvas, {
      type: 'line',
      data: { labels: HOURS, datasets },
      options: {
        animation: false,
        responsive: true,
        maintainAspectRatio: false,
        events: [],
        layout: { padding: { left: 20, right: 0, top: 20, bottom: 0 } },
        plugins: { legend: { display: false }, tooltip: { enabled: false } },
        scales: {
          x: {
            type: 'linear',
            min: 0,
            max: 384,
            afterBuildTicks: (s: any) => {
              s.ticks = DAYS.map((_, i) => ({ value: i * 24 }));
            },
            afterFit: (s: any) => {
              s.height = 100;
            },
            grid: { color: GRID, drawTicks: false },
            border: { display: true, color: '#000', width: 1 },
            ticks: {
              autoSkip: false,
              minRotation: 90,
              maxRotation: 90,
              padding: 3,
              labelOffset: 7,
              color: '#000',
              font: { family: MONO, size: 9.5 },
              callback: (v: any) => DAYS[Math.round(Number(v) / 24)],
            },
          },
          y: {
            type: 'linear',
            position: 'left',
            min: 40 - 580 / 7,
            max: 40,
            afterBuildTicks: (s: any) => {
              s.ticks = TEMP_TICKS.map((v) => ({ value: v }));
            },
            afterFit: (s: any) => {
              s.width = 30;
            },
            grid: { color: GRID, drawTicks: false },
            border: { display: false },
            ticks: {
              crossAlign: 'far',
              color: '#000',
              font: { family: MONO, size: 11 },
              callback: (v: any) => String(v),
            },
          },
          y2: {
            type: 'linear',
            position: 'right',
            min: 75 - 580 / 7,
            max: 75,
            afterBuildTicks: (s: any) => {
              s.ticks = PRECIP_TICKS.map((v) => ({ value: v }));
            },
            afterFit: (s: any) => {
              s.width = 50;
            },
            grid: { display: false, drawTicks: false },
            border: { display: false },
            ticks: {
              crossAlign: 'near',
              padding: 20,
              color: '#000',
              font: { family: MONO, size: 11 },
              callback: (v: any) => String(v),
            },
          },
        },
      },
      plugins: [meteoPlugin],
    });

    return () => chart.destroy();
  }, []);

  return (
    <div style={{ width: 740, height: 700, position: 'relative', background: '#fff' }}>
      <canvas ref={canvasRef} />
    </div>
  );
}
